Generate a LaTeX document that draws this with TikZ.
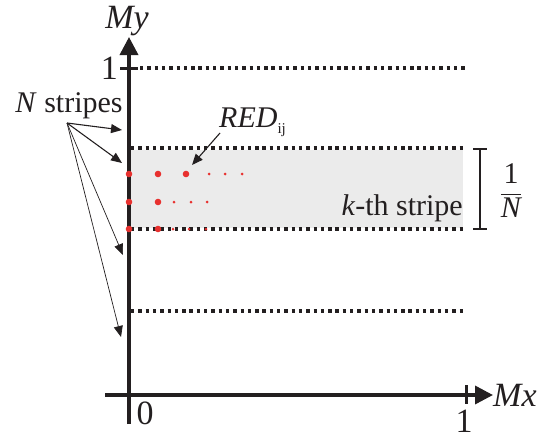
\documentclass[tikz,border=0pt]{standalone}
\usepackage{fontspec}
\setmainfont{Liberation Serif}
\usetikzlibrary{arrows.meta, positioning}
\definecolor{Ink}{HTML}{231F20}
\definecolor{Dot}{HTML}{E8312F}
\definecolor{Band}{HTML}{EBEBEB}
\tikzset{
    axis/.style={line width=3.5pt, color=Ink, -{Triangle[length=18pt,width=18pt]}},
    tickmark/.style={line width=3pt, color=Ink},
    level/.style={line width=3.2pt, color=Ink, dash pattern=on 3.4pt off 3.9pt},
    pointer/.style={-{Triangle[length=11pt,width=9pt]}, line width=1.1pt, color=Ink},
    thinpointer/.style={pointer, line width=0.7pt},
    lbl/.style={font=\fontspec{Liberation Serif}\fontsize{30}{36}\selectfont, inner sep=0pt, text=Ink},
    axlbl/.style={font=\fontspec{Liberation Serif}\fontsize{34}{40}\selectfont, inner sep=0pt, text=Ink},
}

\begin{document}
\begin{tikzpicture}[x=1pt, y=-1pt]
    \useasboundingbox (0,0) rectangle (552,439);

    % k-th stripe band
    \fill[Band] (131,150) rectangle (463,228);

    % stripe borders
    \draw[level] (140,68) -- (465,68);
    \foreach \yy in {148, 229, 311}
        \draw[level] (131,\yy) -- (465,\yy);

    % axes
    \coordinate (origin) at (129,395);
    \draw[axis] (129,424) -- (129,37) coordinate (ytip);
    \draw[axis] (105,395) -- (493,395) coordinate (xtip);
    \draw[tickmark] (120,68) -- (138,68);
    \draw[tickmark] (466,385) -- (466,404);

    \node[axlbl, above=1pt of ytip, xshift=-2pt] (ylabel) {\textit{My}};
    \node[axlbl, right=0pt of xtip] (xlabel) {\textit{Mx}};
    \node[axlbl, anchor=east] (yone) at (118,68) {1};
    \node[axlbl] (xzero) at (145,413) {0};
    \node[axlbl] (xone) at (464,421) {1};

    % RED points
    \foreach \xx in {129, 158, 186}
        \fill[Dot] (\xx,174) circle (3.3pt);
    \foreach \xx in {209, 225, 242}
        \fill[Dot] (\xx,174) circle (1.5pt);
    \foreach \yy/\sa/\sb/\sc in {202/174/191/207, 229/173/189/206} {
        \fill[Dot] (129,\yy) circle (3.3pt);
        \fill[Dot] (158,\yy) circle (3.3pt);
        \foreach \xx in {\sa, \sb, \sc}
            \fill[Dot] (\xx,\yy) circle (1.5pt);
    }

    % labels
    \node[lbl] (nstripes) at (69,106) {\textit{N} stripes};
    \coordinate (fork) at (67,123);
    \coordinate (s1) at (122,130);
    \coordinate (s2) at (122,163);
    \coordinate (s3) at (123,255);
    \coordinate (s4) at (121,337);
    \draw[pointer] (fork) -- (s1);
    \draw[pointer] (fork) -- (s2);
    \draw[thinpointer] (fork) -- (s3);
    \draw[thinpointer] (fork) -- (s4);

    \node[lbl, anchor=base west] (red) at (219,127) {\textit{RED}\raisebox{-0.5ex}{\fontsize{15}{15}\selectfont ij}};
    \coordinate (redpt) at (192,165);
    \draw[pointer] (220,133) -- (redpt);

    \node[lbl, anchor=base east] (kth) at (463,215) {\textit{k}-th stripe};

    % stripe width
    \draw[tickmark, line width=2.5pt] (473,149) -- (487,149)
        (480,149) -- (480,229)
        (473,229) -- (487,229);
    \node[lbl] (frac) at (511,191) {$\displaystyle\frac{\mbox{1}}{\mbox{\itshape N}}$};
\end{tikzpicture}
\end{document}
